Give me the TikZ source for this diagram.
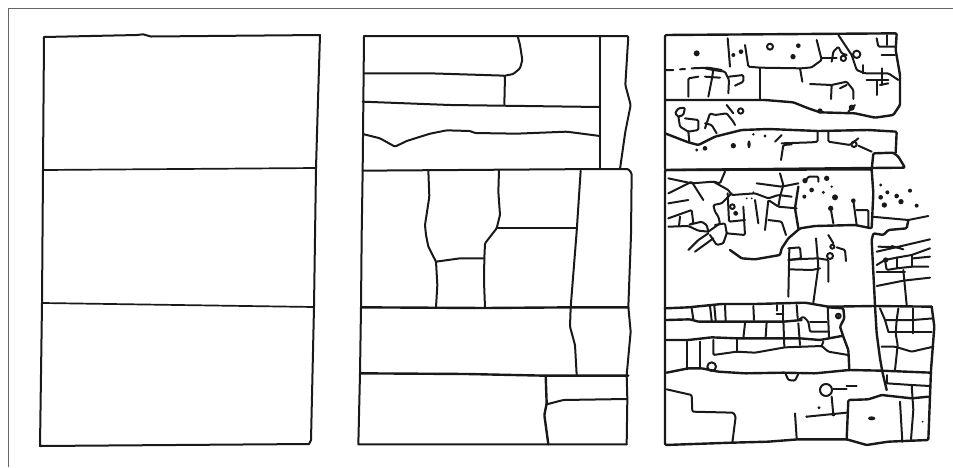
\documentclass[tikz,border=0pt]{standalone}

\begin{document}
\begin{tikzpicture}[x=1pt,y=-1pt,
  ink/.style={line width=2pt,line join=round,line cap=round,rounded corners=1.2pt,color=black!90},
  wall/.style={ink,line width=2.4pt},
  edge/.style={color=black!60,line width=1.1pt},
  spot/.style={fill=black!90}]
\useasboundingbox (0,0) rectangle (953,467);
\fill[white] (0,0) rectangle (953,467);
% ---------- page rule ----------
\draw[edge] (8.5,467) -- (8.5,8.8) -- (953,8.8);
% ---------- first plan: three plots ----------
\draw[ink,sharp corners] (44,37) -- (137,35) -- (143,34.3) -- (151,36.5) -- (320,35) -- (318,100) -- (316,168)
  -- (314,307) -- (311,440) -- (309,444) -- (40,446) -- (42,303) -- (43,170) -- cycle;
\draw[ink,line width=1.7pt] (43,170) -- (316,168);
\draw[ink,line width=1.7pt] (43,303) -- (314,307);
% ---------- second plan: upper part ----------
\begin{scope}[shift={(350,25)},scale=1/3]
\draw[ink] (42,33) -- (835,33) -- (826,180) -- (842,240) -- (826,320) -- (810,432);
\draw[ink,sharp corners] (42,33) -- (38,437) -- (35,630) -- (33,847) -- (30,1045) -- (25,1258) -- (830,1258);
\draw[ink] (503,33) -- (510,60) -- (517,105) -- (510,130) -- (490,147) -- (465,152);
\draw[ink] (42,145) -- (240,145) -- (465,152) -- (463,238);
\draw[ink] (38,230) -- (300,240) -- (750,246);
\draw[ink] (750,33) -- (750,432);
\draw[ink] (42,328) -- (90,340) -- (135,365) -- (170,348) -- (240,326) -- (290,316) -- (360,318)
  -- (375,324) -- (500,326) -- (650,320) -- (750,333);
\draw[ink] (38,437) -- (750,432) -- (835,432) -- (845,445) -- (843,630) -- (835,845) -- (842,920)
  -- (830,1050) -- (832,1122) -- (830,1258);
% ---------- second plan: lower part ----------
\draw[ink] (235,437) -- (238,515) -- (225,600) -- (228,630) -- (235,665) -- (258,710) -- (262,780) -- (258,847);
\draw[ink] (258,710) -- (330,700) -- (403,700);
\draw[ink] (447,437) -- (445,500) -- (450,570) -- (440,610) -- (405,655) -- (403,700) -- (402,770) -- (405,847);
\draw[ink] (443,608) -- (680,608);
\draw[ink] (692,437) -- (680,620) -- (662,847) -- (660,905) -- (675,960) -- (680,1050);
\draw[wall] (33,847) -- (405,849) -- (665,847) -- (835,847);
\draw[wall] (30,1045) -- (350,1047) -- (585,1052) -- (835,1052);
\draw[wall] (587,1052) -- (590,1135) -- (583,1170) -- (595,1258);
\draw[ink] (590,1138) -- (640,1125) -- (830,1122);
\end{scope}
% ---------- third plan: top block ----------
\begin{scope}[shift={(655,25)},scale=1/3]
\draw[wall] (30,430) -- (30,30) -- (725,25) -- (722,75) -- (735,150) -- (735,240) -- (715,270) -- (660,278)
  -- (600,265) -- (495,262) -- (460,250) -- (415,232) -- (330,225) -- (100,225) -- (30,225);
\draw[wall] (30,325) -- (100,352) -- (130,360) -- (180,335) -- (260,315) -- (340,312) -- (490,318)
  -- (640,315) -- (725,320) -- (722,383);
\draw[wall] (30,435) -- (750,428) -- (730,395) -- (715,383) -- (655,385) -- (650,435);
\draw[ink] (30,135) -- (55,135) (75,133) -- (90,132) (110,130) -- (160,128) -- (200,135);
\draw[ink] (218,40) -- (225,125);
\draw[ink] (270,60) -- (280,125) -- (315,128) -- (440,130) -- (470,127) -- (500,105) -- (485,45);
\draw[ink] (315,128) -- (315,225);
\draw[ink] (435,130) -- (442,170);
\draw[ink] (500,100) -- (545,100);
\draw[ink] (530,110) -- (535,80) -- (550,65) -- (560,85) -- (575,90);
\draw[ink] (550,30) -- (590,90) -- (605,135) -- (630,145) -- (700,145) -- (730,165);
\draw[ink] (625,120) -- (625,145);
\draw[ink] (680,130) -- (680,180);
\draw[ink] (635,165) -- (700,165);
\draw[ink] (665,165) -- (665,210);
\draw[ink] (675,180) -- (700,175);
\draw[ink] (665,40) -- (670,65) -- (720,65);
\draw[ink] (695,60) -- (695,30);
\draw[ink] (680,90) -- (720,90);
\draw[ink] (465,177) -- (530,180) -- (528,222);
\draw[ink] (530,180) -- (575,170) -- (595,195) -- (595,222);
\draw[ink] (555,190) -- (575,180);
\draw[ink] (100,215) -- (100,160) -- (130,155);
\draw[ink] (150,130) -- (175,135) -- (170,165) -- (160,215);
\draw[ink] (150,155) -- (195,158);
\draw[ink] (175,135) -- (210,140) -- (222,165) -- (220,205);
\draw[ink] (222,155) -- (265,150) -- (265,170) -- (240,182);
\draw[ink] (70,275) -- (60,265) -- (70,250) -- (90,248) -- (85,270) -- (70,275) -- (75,305) -- (100,320) -- (130,315) -- (130,285) -- (90,280);
\draw[ink] (100,320) -- (103,350);
\draw[ink] (150,310) -- (165,265) -- (180,270) -- (215,265) -- (235,290) -- (240,300);
\draw[ink] (215,240) -- (235,265);
\draw[ink] (150,295) -- (170,300) -- (185,325);
\draw[ink] (360,350) -- (380,330);
\draw[ink] (380,355) -- (470,352) -- (488,350) -- (488,318);
\draw[ink] (378,405) -- (385,360) -- (410,358);
\draw[ink] (520,318) -- (520,350) -- (585,360) -- (610,340);
\draw[ink] (610,362) -- (650,380);
\draw[ink] (580,260) -- (600,240);
\draw[ink] (345,65) circle (9);
\draw[ink] (257,258) circle (8);
\draw[ink] (565,100) circle (8);
\draw[ink] (605,88) circle (11);
\draw[ink] (597,358) circle (8);
\draw[ink] (590,248) circle (6);
\fill[spot] (125,85) circle (9);
\fill[spot] (258,80) circle (7);
\fill[spot] (235,90) circle (6);
\fill[spot] (430,62) circle (7);
\fill[spot] (414,95) circle (8);
\fill[spot] (495,258) circle (8);
\fill[spot] (125,375) circle (5);
\fill[spot] (150,370) circle (7);
\fill[spot] (235,362) circle (8);
\fill[spot] (282,358) ellipse (5 and 12);
\fill[spot] (295,328) circle (4);
\fill[spot] (330,333) circle (5);
\end{scope}
% ---------- third plan: middle block ----------
\begin{scope}[shift={(655,160)},scale=1/3]
\draw[wall] (30,445) -- (30,30) -- (650,28) -- (655,100) -- (650,205) -- (600,195) -- (480,198) -- (435,205)
  -- (400,235) -- (380,265) -- (375,285) -- (300,298) -- (260,295) -- (225,270);
\draw[ink] (650,170) -- (760,180) -- (820,168);
\draw[wall] (760,180) -- (755,205) -- (700,210) -- (685,225) -- (655,220) -- (650,240) -- (660,435);
\draw[wall] (30,445) -- (100,442) -- (200,432) -- (300,432) -- (450,428) -- (520,440) -- (660,438) -- (830,440);
\draw[wall] (430,80) -- (420,145) -- (430,205);
% cracks on the left
\draw[ink] (40,55) -- (110,70) -- (175,65) -- (195,70) -- (210,35);
\draw[ink] (40,100) -- (110,65) -- (145,120);
\draw[ink] (175,65) -- (220,90) -- (230,105) -- (300,100) -- (340,115) -- (370,105) -- (410,110);
\draw[ink] (305,70) -- (380,80) -- (430,70);
\draw[ink] (375,40) -- (385,75) -- (375,110) -- (370,140) -- (340,120) -- (330,210);
\draw[ink] (370,140) -- (425,145);
\draw[ink] (340,180) -- (380,185) -- (393,225);
\draw[ink] (300,120) -- (310,190);
\draw[ink] (230,100) -- (200,130) -- (175,135) -- (180,155) -- (190,170) -- (195,190) -- (160,215);
\draw[ink] (218,100) -- (222,185) -- (270,180);
\draw[ink] (265,140) -- (270,225) -- (215,220) -- (210,190) -- (180,195);
\draw[ink] (40,130) -- (100,120);
\draw[ink] (40,175) -- (110,150) -- (115,190) -- (100,195) -- (140,185) -- (155,195) -- (160,215);
\draw[ink] (40,200) -- (100,198) -- (130,212) -- (160,215);
\draw[ink] (75,170) -- (72,198);
\draw[ink] (160,220) -- (130,240) -- (100,270);
\draw[ink] (175,235) -- (120,275);
\draw[ink] (165,225) -- (185,255) -- (205,250) -- (215,220);
\draw[ink] (232,140) circle (7);
\draw[ink] (242,160) circle (5);
\fill[spot] (275,115) circle (3);
\fill[spot] (290,115) circle (3);
\fill[spot] (295,97) circle (3);
% dots and stems on the right
\draw[ink] (450,65) -- (460,50) -- (490,50) -- (490,65);
\fill[spot] (450,62) circle (8);
\fill[spot] (515,55) circle (8);
\fill[spot] (530,80) circle (4);
\fill[spot] (505,97) circle (5);
\fill[spot] (470,90) circle (7);
\fill[spot] (448,110) circle (6);
\fill[spot] (540,112) circle (9);
\fill[spot] (527,145) circle (8);
\draw[ink] (527,145) -- (535,190);
\fill[spot] (595,122) circle (7);
\draw[ink] (595,122) -- (605,195);
\draw[ink] (605,150) -- (640,150) -- (640,200);
\fill[spot] (677,75) circle (5);
\fill[spot] (697,97) circle (6);
\fill[spot] (677,112) circle (7);
\fill[spot] (725,108) circle (7);
\fill[spot] (765,92) circle (6);
\fill[spot] (738,125) circle (8);
\fill[spot] (688,135) circle (8);
\fill[spot] (785,137) circle (6);
% centre rooms
\draw[ink] (400,265) -- (435,262) -- (438,295) -- (400,300);
\draw[ink] (403,265) -- (400,410);
\draw[ink] (400,300) -- (440,297) -- (490,295) -- (520,300) -- (520,365);
\draw[ink] (403,328) -- (470,330) -- (495,325);
\draw[ink] (483,235) -- (490,320) -- (475,428);
\draw[ink] (525,288) circle (9);
\draw[ink] (520,225) -- (535,250);
\draw[ink] (532,260) circle (6);
\draw[ink] (545,262) -- (570,270) -- (573,303);
% rooms at the right edge
\draw[ink] (665,275) -- (740,258) -- (825,238);
\draw[ink] (670,260) -- (735,262);
\draw[ink] (710,258) -- (745,268);
\draw[ink] (665,315) -- (690,300) -- (730,292) -- (770,285) -- (825,265);
\fill[spot] (692,300) circle (8);
\draw[ink] (690,300) -- (695,330) -- (725,325) -- (770,320) -- (820,320);
\draw[ink] (725,325) -- (725,292);
\draw[ink] (770,285) -- (770,320);
\draw[ink] (775,295) -- (825,290);
\draw[ink] (665,335) -- (750,335);
\draw[ink] (745,330) -- (755,435);
\draw[ink] (665,378) -- (745,362) -- (825,353);
\end{scope}
% ---------- third plan: bottom block ----------
\begin{scope}[shift={(655,300)},scale=1/3]
\draw[wall] (30,25) -- (30,435) -- (230,428) -- (340,425) -- (430,418) -- (575,418) -- (635,435) -- (700,425)
  -- (820,420) -- (828,210) -- (838,80) -- (830,20);
\draw[wall] (35,60) -- (105,58) -- (130,65) -- (270,65) -- (385,65) -- (440,60);
\draw[wall] (35,120) -- (100,120) -- (170,112) -- (245,115) -- (385,115) -- (435,115) -- (495,120) -- (560,108);
\draw[ink] (110,25) -- (115,58);
\draw[ink] (165,18) -- (170,62);
\draw[ink] (178,18) -- (182,62);
\draw[ink] (210,15) -- (212,62);
\draw[ink] (295,18) -- (297,60);
\draw[ink] (365,15) -- (365,32) (365,42) -- (385,42) (385,15) -- (385,60);
\draw[ink] (425,15) -- (428,55);
\draw[ink] (270,70) -- (265,115);
\draw[ink] (335,65) -- (332,110);
\draw[ink] (385,60) -- (388,140);
\draw[ink] (430,70) -- (435,135);
\draw[ink] (430,60) -- (445,50) -- (460,65) -- (465,95) -- (520,95);
\draw[ink] (465,65) -- (515,65);
\draw[ink] (518,20) -- (522,110);
\draw[wall] (520,22) -- (565,25) -- (568,55) -- (555,80) -- (565,110) -- (580,150) -- (583,210);
\draw[ink] (550,48) circle (7);
\fill[spot] (550,48) circle (4);
\draw[ink] (175,120) -- (175,165) -- (245,155) -- (300,158) -- (390,142) -- (500,138) -- (520,155) -- (580,165);
\draw[ink] (245,115) -- (245,155);
\draw[ink] (500,138) -- (505,125);
\draw[ink] (95,125) -- (95,208);
\draw[ink] (135,125) -- (135,205);
\draw[wall] (35,218) -- (100,205) -- (140,205) -- (190,215) -- (270,220) -- (385,218) -- (480,220) -- (583,210)
  -- (680,212) -- (828,218);
\draw[wall] (660,18) -- (665,100) -- (675,175) -- (682,215) -- (695,270);
\draw[ink] (170,200) circle (13);
\draw[ink] (392,222) -- (400,240) -- (420,242) -- (430,222);
\draw[ink] (513,270) circle (18);
\draw[ink] (535,268) -- (575,268);
\draw[ink] (575,258) -- (605,258);
\draw[ink] (530,290) -- (535,345);
\fill[spot] (492,323) circle (5);
\draw[ink] (455,350) -- (575,338);
\fill[spot] (455,350) circle (4);
\fill[spot] (535,343) circle (6);
% grid at the right edge
\draw[ink] (675,25) -- (690,60) -- (700,95);
\draw[ink] (730,25) -- (725,60) -- (722,100) -- (728,135) -- (720,210);
\draw[ink] (775,25) -- (775,100);
\draw[ink] (690,60) -- (775,60) -- (835,55);
\draw[ink] (700,97) -- (830,97);
\draw[ink] (680,140) -- (720,140) -- (770,155) -- (835,140);
\draw[ink] (695,250) -- (770,255) -- (825,258);
\draw[ink] (695,225) -- (695,250);
% yard with its rooms
\draw[wall] (575,418) -- (580,300) -- (640,298) -- (680,285) -- (770,295) -- (820,290);
\draw[ink] (735,305) -- (742,425);
\draw[ink] (770,255) -- (775,330) -- (768,418);
\fill[spot] (650,355) ellipse (11 and 6);
\fill[spot] (803,365) circle (3);
\draw[ink] (420,340) -- (425,415);
\draw[ink] (35,268) -- (110,285) -- (112,335) -- (235,338) -- (242,350) -- (232,428);
\end{scope}
\end{tikzpicture}
\end{document}
